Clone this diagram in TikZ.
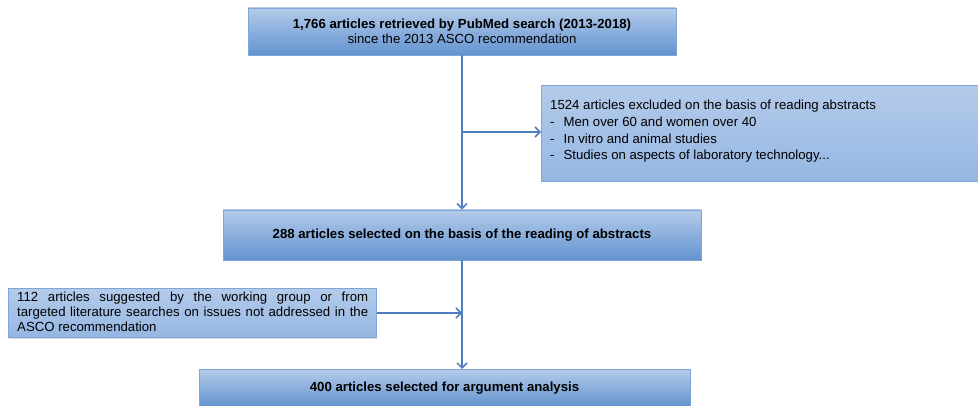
\documentclass[tikz,border=0pt]{standalone}
\usepackage{fontspec}
\setmainfont{Liberation Sans}
\usetikzlibrary{arrows.meta,shadows}
\definecolor{boxtop}{HTML}{B4CBEA}
\definecolor{boxbot}{HTML}{6293CF}
\definecolor{boxline}{HTML}{7FA6D9}
\definecolor{lightbot}{HTML}{95B6E3}
\definecolor{arrowcol}{HTML}{4F7EC0}
\tikzset{
  mainbox/.style={rectangle, draw=boxline, line width=0.8pt, top color=boxtop, bottom color=boxbot, font=\fontsize{13.2}{16}\selectfont\bfseries, align=center, inner sep=0pt, drop shadow={shadow xshift=1pt, shadow yshift=-1.5pt, opacity=0.35}},
  sidebox/.style={rectangle, draw=boxline, line width=0.8pt, top color=boxtop, bottom color=lightbot, inner sep=0pt},
  conn/.style={draw=arrowcol, line width=1.6pt, -{Straight Barb[length=5pt,width=10pt,line width=1.5pt]}},
  plain/.style={draw=arrowcol, line width=1.6pt}
}
\begin{document}
\hyphenpenalty=10000
\begin{tikzpicture}[x=1pt,y=-1pt]
\useasboundingbox (0,0) rectangle (978,406);
\node[mainbox, minimum width=428pt, minimum height=47pt] (b1) at (462,31.5) {1,766 articles retrieved by PubMed search (2013-2018)\\[-1.5pt]\mdseries since the 2013 ASCO recommendation};
\node[sidebox, minimum width=437pt, minimum height=96pt, anchor=north west] (b2) at (541,85) {};
\node[anchor=north west, font=\fontsize{13.2}{16.7}\selectfont, align=left, inner sep=0pt] (t2) at (550,100) {1524 articles excluded on the basis of reading abstracts\\
-\hspace{9pt}Men over 60 and women over 40\\
-\hspace{9pt}In vitro and animal studies\\
-\hspace{9pt}Studies on aspects of laboratory technology...};
\node[mainbox, minimum width=478pt, minimum height=50pt] (b3) at (462,235) {288 articles selected on the basis of the reading of abstracts};
\node[sidebox, minimum width=368pt, minimum height=49pt, anchor=north west, drop shadow={shadow xshift=1pt, shadow yshift=-1.5pt, opacity=0.3}] (b4) at (8,288) {};
\node[anchor=north west, font=\fontsize{13.2}{15}\selectfont, text width=351pt, align=justify, inner sep=0pt] (t4) at (17,292) {112 articles suggested by the working group or from\linebreak targeted literature searches on issues not addressed in the\linebreak ASCO recommendation};
\node[mainbox, minimum width=491pt, minimum height=37pt, anchor=north] (b5) at (444.5,369) {400 articles selected for argument analysis};
\coordinate (j1) at (462,132);
\coordinate (j2) at (462,313);
\draw[plain] (b1.south -| j1) -- (j1);
\draw[conn] (j1) -- (b3.north -| j1);
\draw[conn] (j1) -- (b2.west |- j1);
\draw[plain] (b3.south -| j2) -- (j2);
\draw[conn] (j2) -- (b5.north -| j2);
\draw[conn] (b4.east |- j2) -- (j2);
\end{tikzpicture}
\end{document}
